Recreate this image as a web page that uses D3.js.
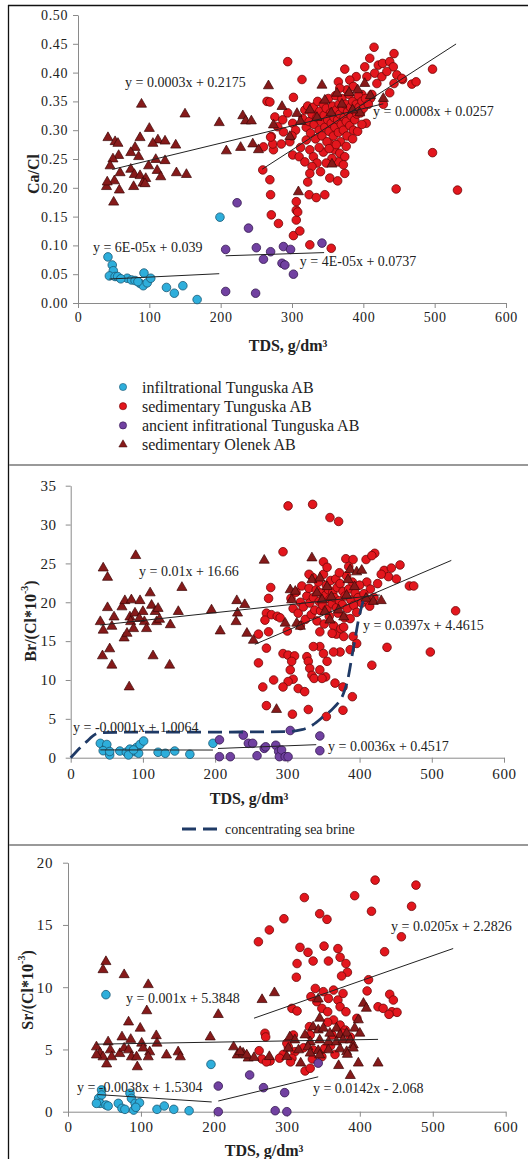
<!DOCTYPE html>
<html><head><meta charset="utf-8">
<script src="https://cdn.jsdelivr.net/npm/d3@7"></script>
<style>
body{margin:0;background:#fff}
svg{display:block}
text{font-family:"Liberation Serif","Times New Roman",serif;fill:#222}
</style>
</head><body>
<svg id="c" width="528" height="1159"></svg>
<script>
// ---------------- DATA ----------------
const seriesNames = ["infiltrational Tunguska AB","sedimentary Tunguska AB","ancient infitrational Tunguska AB","sedimentary Olenek AB"];
const xTicks = [0,100,200,300,400,500,600];
const caTicks = [0,0.05,0.10,0.15,0.20,0.25,0.30,0.35,0.40,0.45,0.50];
const brTicks = [0,5,10,15,20,25,30,35];
const srTicks = [0,5,10,15,20];

// Panel 1: Ca/Cl
const caInfil = [[42,0.080],[48,0.066],[49.5,0.056],[44,0.047],[52,0.046],[55.6,0.046],[69,0.043],[75,0.040],[80,0.039],[87,0.034],[91.5,0.030],[97,0.035],[102,0.043],[92.5,0.052],[124,0.027],[135,0.017],[147,0.030],[167,0.006],[199,0.149],[60,0.042],[84,0.037]];
const caSedT = [[294,0.419],[415,0.444],[443,0.433],[497,0.406],[497,0.261],[446,0.198],[532,0.196],[314,0.388],[374,0.406],[259,0.231],[269,0.214],[270,0.188],[271,0.153],[281,0.138],[302,0.117],[311,0.125],[306,0.161],[306,0.144],[308,0.158],[306,0.176],[324,0.188],[334,0.183],[346,0.188],[325,0.101],[355,0.095],[353,0.217],[364,0.212],[374,0.225],[404,0.312],[437,0.365],[455,0.388],[468,0.380],[474,0.384],
[409,0.425],[402,0.410],[421,0.413],[427,0.416],[437,0.419],[442,0.410],[416,0.399],[426,0.393],[433,0.402],[447,0.396],[405,0.393],[390,0.393],[381,0.387],[365,0.384],[419,0.381],[443,0.381],[454,0.390],[377,0.370],[367,0.373],[386,0.376],[398,0.362],[410,0.355],[428,0.345],[395,0.345],
[265,0.350],[269,0.349],[276,0.323],[271,0.289],[274,0.266],[260,0.271],[288,0.297],[297,0.280],[302,0.357],[301,0.257],[310,0.254],[301,0.312],[287,0.318],[294,0.330],[280,0.306],[273,0.276],[270,0.288],[285,0.276],[305,0.300],[300,0.290],
[320,0.283],[325,0.266],[330,0.254],[335,0.243],[328,0.237],[325,0.225],[322,0.210],[318,0.245],[312,0.270],
[353,0.277],[360,0.266],[367,0.260],[374,0.254],[365,0.245],[356,0.251],[372,0.240],[344,0.262],[348,0.243],[340,0.228],
[315,0.320],[318,0.335],[320,0.305],[322,0.342],[324,0.315],[326,0.295],[328,0.328],[330,0.340],[331,0.310],[333,0.285],[335,0.322],[336,0.350],[338,0.300],[339,0.333],[341,0.315],[342,0.290],[344,0.345],[345,0.326],[346,0.305],[348,0.338],[349,0.280],[350,0.318],[351,0.355],[352,0.298],[354,0.330],[355,0.312],[357,0.342],[358,0.290],[359,0.322],[360,0.305],[361,0.360],[362,0.335],[364,0.318],[365,0.296],[366,0.345],[367,0.328],[368,0.280],[369,0.310],[370,0.355],[371,0.338],[372,0.300],[373,0.322],[375,0.345],[376,0.315],[377,0.290],[378,0.332],[380,0.362],[381,0.308],[382,0.340],[383,0.325],[385,0.350],[386,0.300],[387,0.335],[388,0.318],[390,0.345],[391,0.328],[393,0.360],[394,0.340],[396,0.330],[398,0.350],[400,0.338],[403,0.355],[407,0.345],[412,0.362],[338,0.270],[352,0.268],[362,0.275],[376,0.272],[385,0.285],[392,0.298],[398,0.310]];
const caAncient = [[207,0.093],[223,0.174],[239,0.130],[250,0.096],[260,0.076],[270,0.089],[288,0.098],[298,0.093],[286,0.069],[290,0.066],[302,0.050],[342,0.104],[207,0.020],[249,0.017]];
const caOlenek = [[89,0.345],[150,0.328],[198,0.313],[231,0.325],[235,0.316],[243,0.316],[100,0.303],[42,0.287],[52,0.280],[56,0.277],[87,0.287],[112,0.283],[105,0.277],[122,0.281],[137,0.274],[80,0.270],[74,0.261],[57,0.256],[85,0.254],[109,0.249],[122,0.247],[49,0.250],[45,0.238],[99,0.238],[111,0.230],[74,0.232],[79,0.223],[87,0.221],[95,0.216],[91,0.208],[94,0.207],[59,0.226],[116,0.219],[138,0.226],[152,0.223],[40,0.202],[51,0.212],[41,0.210],[58,0.196],[78,0.202],[50,0.175],[208,0.264],[228,0.270],[245,0.276],[253,0.266],[267,0.377],[342,0.378],[286,0.341],[309,0.193],[356,0.241],[428,0.355],[402,0.381],[395,0.330],[363,0.364],[346,0.352],[307,0.329],[274,0.309],[325,0.335],[297,0.289],[312,0.315],[335,0.322],[370,0.345],[385,0.335],[355,0.330],[380,0.365],[392,0.370],[410,0.360]];
// trend lines: [slope, intercept, xFrom, xTo]
const caTrends = [[0.00006,0.039,44,198],[0.0008,0.0257,258,530],[0.00004,0.0737,207,345],[0.0003,0.2175,48,428]];
const caEqText = ["y = 6E-05x + 0.039","y = 0.0008x + 0.0257","y = 4E-05x + 0.0737","y = 0.0003x + 0.2175"];
const caEqAt = [[21,0.0972],[413.6,0.3316],[311,0.0712],[65.9,0.382]];

// Panel 2: Br/(Cl*10^-3)
const brInfil = [[41,1.85],[49,1.3],[50,1.7],[45,0.9],[54,0.35],[54,0.8],[68,0.86],[77,0.7],[82,1.1],[89,0.77],[91,1.3],[96,1.7],[101,2.15],[80,0.35],[94,0.57],[87,1.0],[121,0.7],[131,0.57],[144,0.86],[165,0.44],[197,1.85]];
const brSedT = [[301,32.4],[335,32.6],[359,30.9],[371,30.4],[294,26.5],[350,25.2],[381,25.6],[391,25.5],[409,25.5],[421,26.3],[417,26.0],[434,24.1],[444,24.4],[456,24.8],[440,23.3],[451,23.0],[469,22.1],[475,22.1],[533,18.9],[438,14.2],[498,13.6],[417,11.9],[277,21.9],[274,20.5],[271,18.6],[278,18.4],[286,18.2],[269,17.7],[274,16.2],[260,15.9],[271,14.1],[260,12.2],[294,13.4],[301,13.2],[310,13.1],[306,12.4],[304,11.3],[308,10.1],[301,9.8],[294,9.1],[315,8.9],[324,8.5],[327,13.0],[329,12.4],[331,11.5],[334,10.6],[337,10.2],[345,14.3],[350,13.4],[355,12.4],[345,11.3],[353,10.4],[368,15.9],[378,15.6],[391,15.6],[396,14.7],[387,13.9],[373,13.6],[364,13.6],[281,10.0],[266,9.1],[271,6.7],[307,5.6],[329,6.2],[354,5.3],[377,6.1],[366,9.6],[377,9.1],[390,7.85],[348,10.2],[336,14.3],[410,22.6],[415,21.7],[420,20.6],[425,22.4],[430,23.6],[300,16.3],[290,18.0],
[305,20.5],[308,19.2],[312,21.3],[315,18.6],[318,20.0],[320,22.1],[322,19.4],[325,17.8],[327,20.8],[330,21.8],[331,19.9],[333,18.4],[335,23.2],[336,20.6],[338,19.0],[340,21.6],[341,17.6],[343,22.6],[344,20.1],[346,18.9],[347,21.2],[349,19.6],[350,23.6],[351,17.2],[353,20.9],[354,22.2],[355,19.1],[357,21.6],[358,18.2],[359,20.4],[360,22.8],[362,19.8],[363,21.3],[364,17.0],[365,20.6],[367,23.0],[368,19.3],[369,21.9],[370,18.6],[372,20.2],[373,22.4],[374,16.6],[376,19.7],[377,21.4],[379,18.0],[380,20.8],[382,23.4],[383,19.2],[385,21.7],[387,17.9],[388,20.3],[390,22.6],[392,19.6],[394,21.2],[396,18.7],[398,20.6],[400,22.2],[403,19.9],[406,21.1],[410,20.3],[414,19.5],[385,24.6],[372,23.8],[355,24.5],[330,23.6],[318,17.0],[345,16.2],[362,16.0],[378,16.8]];
const brAncient = [[206,2.3],[206,0.13],[221,0.13],[239,2.9],[246,1.85],[252,1.85],[258,0.26],[268,1.2],[270,1.4],[284,1.6],[288,0.8],[289,0.13],[292,1.0],[297,0.13],[301,0.13],[304,3.5],[345,2.8],[345,0.9]];
const brOlenek = [[41,17.5],[45,16.4],[45,24.4],[51,23.2],[51,19.3],[57,16.9],[44,13.1],[54,14.0],[57,11.9],[60,18.1],[71,19.4],[75,20.2],[74,15.4],[78,16.0],[82,18.1],[83,17.5],[87,16.6],[89,18.6],[84,20.3],[90,26.0],[81,9.1],[96,20.2],[100,18.8],[102,17.5],[105,16.6],[95,17.9],[110,21.2],[112,19.6],[117,18.8],[119,17.5],[121,19.2],[114,13.1],[123,17.8],[138,17.1],[137,11.9],[149,18.8],[154,21.9],[195,19.0],[207,16.3],[230,20.2],[231,18.6],[229,17.5],[241,19.7],[244,16.0],[253,15.1],[268,25.4],[285,6.2],[297,17.3],[313,17.3],[318,16.9],[304,21.6],[311,21.4],[306,20.3],[334,25.7],[334,22.9],[345,23.1],[341,21.2],[348,20.3],[355,22.0],[361,20.7],[387,24.2],[396,23.9],[403,24.1],[384,22.9],[393,22.0],[382,20.9],[409,20.5],[419,20.1],[430,20.2],[371,19.0],[378,18.1],[359,17.7],[352,18.8]];
const seaBrine = [[0,0],[20,1.9],[40,3.2],[100,3.3],[200,3.3],[300,3.35],[320,3.6],[335,4.2],[350,5.3],[365,6.5],[377,8.1],[384,10.2],[389,12.8],[394,15.4],[398,17.5],[403,19.5],[408,21.0]];
const brTrends = [[-0.0001,1.0064,41,197],[0.0397,4.4615,255,527],[0.0036,0.4517,204,340],[0.01,16.66,41,428]];
const brEqText = ["y = -0.0001x + 1.0064","y = 0.0397x + 4.4615","y = 0.0036x + 0.4517","y = 0.01x + 16.66"];
const brEqAt = [[3.2,3.95],[404.7,16.95],[356.3,1.5],[94.6,23.9]];

// Panel 3: Sr/(Cl*10^-3)
const srInfil = [[52,9.4],[196,3.8],[46,1.75],[42,1.07],[46,1.34],[44,0.67],[52,0.54],[39,0.67],[55,0.46],[69,0.67],[74,0.27],[78,0.19],[85,1.48],[87,1.07],[92,0.67],[98,0.72],[90,0.13],[93,0.35],[122,0.19],[132,0.46],[145,0.19],[166,0.08]];
const srSedT = [[421,18.6],[477,18.2],[393,17.35],[324,17.2],[416,16.1],[471,16.5],[345,15.9],[355,15.45],[296,15.5],[276,14.6],[261,13.65],[457,14.05],[434,12.85],[318,13.2],[329,12.8],[351,13.3],[370,13.1],[373,12.4],[381,11.9],[383,11.2],[375,10.9],[336,12.1],[357,12.1],[314,11.9],[313,10.8],[412,10.6],[410,9.7],[339,9.9],[350,9.64],[364,9.77],[377,9.5],[333,9.24],[357,9.1],[370,8.97],[373,8.43],[381,8.03],[348,8.3],[356,8.03],[307,8.3],[314,8.09],[341,8.84],[441,9.43],[446,8.97],[425,8.43],[432,8.3],[444,8.03],[451,7.98],[440,7.82],[364,7.37],[373,6.96],[380,6.56],[362,6.16],[387,6.0],[356,7.18],[396,7.5],[331,6.83],[332,6.16],[309,6.16],[302,5.2],[311,4.82],[323,5.14],[335,4.23],[325,3.27],[332,3.49],[336,4.96],[352,5.09],[307,4.29],[348,4.42],[270,6.3],[271,6.0],[266,4.23],[277,4.07],[262,4.9],[272,4.0],[295,4.6],[300,5.5],[305,4.0],[290,4.3],[360,5.3],[366,4.6],[376,6.3]];
const srAncient = [[206,2.06],[206,0],[249,2.95],[268,1.93],[284,0.08],[297,1.53],[300,0],[343,3.9]];
const srOlenek = [[52,12.05],[48,11.4],[77,11.0],[110,10.2],[108,8.1],[39,5.2],[44,4.7],[48,4.4],[39,4.55],[55,5.6],[58,4.96],[53,3.83],[60,4.4],[74,6.0],[71,4.66],[77,5.1],[83,7.2],[86,5.8],[83,4.96],[87,4.4],[94,4.4],[95,3.6],[99,6.7],[101,5.5],[103,5.1],[112,4.8],[110,4.4],[121,6.1],[122,5.5],[135,4.55],[151,4.8],[154,4.4],[195,6.0],[206,7.8],[227,5.2],[232,4.55],[240,4.7],[247,4.3],[266,9.0],[283,9.55],[343,9.05],[405,8.7],[409,8.3],[398,7.37],[345,7.5],[336,6.8],[343,6.56],[350,6.7],[359,6.3],[368,6.7],[373,6.16],[382,6.3],[393,6.7],[400,6.3],[304,6.0],[311,5.76],[325,6.16],[332,5.6],[345,5.76],[357,5.6],[368,5.6],[377,5.76],[387,5.76],[391,5.36],[302,5.1],[316,4.96],[329,5.2],[343,4.9],[357,4.96],[373,5.04],[382,4.82],[391,5.1],[236,4.82],[245,4.55],[255,4.34],[276,4.42],[300,4.42],[319,3.9],[332,4.7],[345,4.55],[371,3.7],[383,4.6],[398,3.9],[425,3.9],[387,2.9]];
const srTrends = [[-0.0038,1.5304,41,197],[0.0205,2.2826,255,528],[0.0142,-2.068,206,343],[0.001,5.3848,39,425]];
const srEqText = ["y = -0.0038x + 1.5304","y = 0.0205x + 2.2826","y = 0.0142x - 2.068","y = 0.001x + 5.3848"];
const srEqAt = [[12.3,1.98],[442.8,14.9],[335.8,1.90],[79.5,9.13]];

// ---------------- STYLE ----------------
const fills = ["#2eaedb","#e3161d","#7141a1","#861a1a"];
const strokes = ["#1a5873","#6e0808","#33184f","#3b0606"];
const FONT = '"Liberation Serif","Times New Roman",serif';

const svg = d3.select("#c");
svg.append("rect").attr("width",528).attr("height",1159).attr("fill","#fff");

// frame
svg.append("line").attr("x1",8.5).attr("x2",8.5).attr("y1",5).attr("y2",1159).attr("stroke","#111").attr("stroke-width",1.3);
svg.append("line").attr("x1",8).attr("x2",528).attr("y1",5.5).attr("y2",5.5).attr("stroke","#111").attr("stroke-width",1.3);
[465,845].forEach(y=>{
  svg.append("line").attr("x1",9).attr("x2",528).attr("y1",y).attr("y2",y).attr("stroke","#999").attr("stroke-width",2);
});

function panel(o){
  const x = d3.scaleLinear().domain([0,600]).range(o.xr);
  const y = d3.scaleLinear().domain([0,o.ymax]).range(o.yr);
  const g = svg.append("g");
  const ax = d3.axisBottom(x).tickValues(xTicks).tickSize(5).tickSizeOuter(0).tickPadding(o.xpad).tickFormat(d3.format("d"));
  const ay = d3.axisLeft(y).tickValues(o.yTicks).tickSize(5).tickSizeOuter(0).tickPadding(o.ypad).tickFormat(o.fmt);
  const gx = g.append("g").attr("transform",`translate(0,${o.yr[0]})`).call(ax);
  const gy = g.append("g").attr("transform",`translate(${o.xr[0]},0)`).call(ay);
  [gx,gy].forEach(a=>{
    a.selectAll("path,line").attr("stroke","#8a8a8a");
    a.selectAll("text").attr("font-family",FONT).attr("font-size",o.tfs).attr("fill","#2a2a2a").style("letter-spacing","0.6px");
  });
  o.data.forEach((pts,i)=>{
    if(i===3){
      g.append("g").selectAll("path").data(pts).join("path")
        .attr("d",d3.symbol(d3.symbolTriangle,44))
        .attr("transform",d=>`translate(${x(d[0])},${y(d[1])})`)
        .attr("fill",fills[i]).attr("stroke",strokes[i]).attr("stroke-width",0.7);
    } else {
      g.append("g").selectAll("circle").data(pts).join("circle")
        .attr("cx",d=>x(d[0])).attr("cy",d=>y(d[1])).attr("r",4.3)
        .attr("fill",fills[i]).attr("stroke",strokes[i]).attr("stroke-width",0.8);
    }
  });
  o.trends.forEach(t=>{
    g.append("line").attr("x1",x(t[2])).attr("y1",y(t[0]*t[2]+t[1]))
      .attr("x2",x(t[3])).attr("y2",y(t[0]*t[3]+t[1]))
      .attr("stroke","#222").attr("stroke-width",1);
  });
  if(o.brine){
    g.append("path").datum(o.brine)
      .attr("d",d3.line().x(d=>x(d[0])).y(d=>y(d[1])).curve(d3.curveMonotoneX))
      .attr("fill","none").attr("stroke","#1f3a66").attr("stroke-width",2.8).attr("stroke-dasharray","14,7");
  }
  o.eqText.forEach((t,i)=>{
    g.append("text").attr("x",x(o.eqAt[i][0])).attr("y",y(o.eqAt[i][1]))
      .attr("dominant-baseline","central").attr("font-size",14).text(t);
  });
  g.append("text").attr("x",o.xt[0]).attr("y",o.xt[1]).attr("text-anchor","middle")
    .attr("dominant-baseline","central").attr("font-weight","bold").attr("font-size",16)
    .text("TDS, g/dm³");
  const yt = g.append("text").attr("transform",`translate(${o.yt[0]},${o.yt[1]}) rotate(-90)`)
    .attr("text-anchor","middle").attr("dominant-baseline","central")
    .attr("font-weight","bold").attr("font-size",16);
  if(o.ysup){
    yt.append("tspan").text(o.ylab);
    yt.append("tspan").attr("font-size",10).attr("dy",-6).text(o.ysup);
    yt.append("tspan").attr("dy",6).text(")");
  } else yt.text(o.ylab);
}

panel({xr:[78,506], yr:[303,15], ymax:0.5, yTicks:caTicks, fmt:d3.format(".2f"), xpad:4, ypad:5, tfs:14,
  data:[caInfil,caSedT,caAncient,caOlenek], trends:caTrends, eqText:caEqText, eqAt:caEqAt,
  xt:[288,345], yt:[33,174], ylab:"Ca/Cl"});
panel({xr:[70.7,504], yr:[757.7,485.7], ymax:35, yTicks:brTicks, fmt:d3.format("d"), xpad:6, ypad:9, tfs:15,
  data:[brInfil,brSedT,brAncient,brOlenek], trends:brTrends, eqText:brEqText, eqAt:brEqAt, brine:seaBrine,
  xt:[249,798], yt:[30,621], ylab:"Br/(Cl*10", ysup:"-3"});
panel({xr:[68,505.7], yr:[1111.7,862.7], ymax:20, yTicks:srTicks, fmt:d3.format("d"), xpad:5, ypad:10, tfs:15,
  data:[srInfil,srSedT,srAncient,srOlenek], trends:srTrends, eqText:srEqText, eqAt:srEqAt,
  xt:[264,1150], yt:[27,990], ylab:"Sr/(Cl*10", ysup:"-3"});

const lg = svg.append("g");
seriesNames.forEach((n,i)=>{
  const yy = 387 + i*19.2;
  if(i===3){
    lg.append("path").attr("d",d3.symbol(d3.symbolTriangle,30)).attr("transform",`translate(123,${yy})`)
      .attr("fill",fills[i]).attr("stroke",strokes[i]).attr("stroke-width",0.5);
  } else {
    lg.append("circle").attr("cx",123).attr("cy",yy).attr("r",3.6).attr("fill",fills[i]).attr("stroke",strokes[i]).attr("stroke-width",0.6);
  }
  lg.append("text").attr("x",142).attr("y",yy).attr("dominant-baseline","central").attr("font-size",16).text(n);
});
lg.append("line").attr("x1",182).attr("x2",218).attr("y1",829).attr("y2",829)
  .attr("stroke","#1f3a66").attr("stroke-width",2.8).attr("stroke-dasharray","14,7");
lg.append("text").attr("x",225).attr("y",829).attr("dominant-baseline","central").attr("font-size",14).text("concentrating sea brine");
</script>
</body></html>
